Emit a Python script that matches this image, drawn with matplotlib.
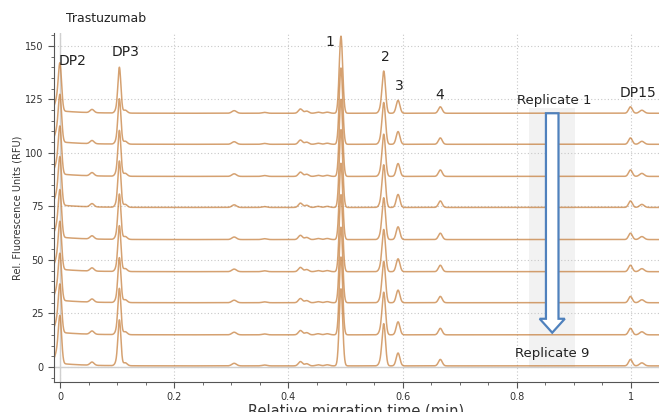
import numpy as np
import matplotlib
matplotlib.use("Agg")
import matplotlib.pyplot as plt
from matplotlib.patches import FancyArrow, Rectangle

# peak table (position in relative time, height in RFU, sigma)
peak_pos = [-0.005, 0.000, 0.056, 0.099, 0.104, 0.114, 0.305, 0.358, 0.421, 0.432,
            0.452, 0.468, 0.492, 0.561, 0.567, 0.592, 0.666, 0.999, 1.019]
peak_height = [5.0, 20.0, 1.5, 1.5, 21.0, 1.4, 1.2, 0.4, 2.0, 1.0,
               0.5, 0.5, 36.0, 1.5, 19.5, 6.0, 3.0, 3.0, 1.4]
peak_sigma = [0.004, 0.0028, 0.0035, 0.003, 0.0026, 0.0035, 0.004, 0.004, 0.0035, 0.0035,
              0.004, 0.004, 0.003, 0.003, 0.003, 0.0032, 0.0033, 0.0033, 0.004]

# baseline offset of each replicate (Replicate 1 on top)
offsets = [118.5, 104.0, 89.0, 74.5, 59.5, 44.5, 30.0, 15.0, 0.5]
scales = [1.00, 0.99, 1.00, 1.01, 0.99, 1.00, 0.98, 1.01, 1.00]

labels = ["DP2", "DP3", "1", "2", "3", "4", "DP15"]
label_x = [0.022, 0.114, 0.472, 0.569, 0.595, 0.665, 1.012]
label_y = [143, 147, 152, 145, 131, 127, 128]


def trace(t, scale):
    y = 1.5 * np.exp(-(t + 0.01) / 0.04)
    for p, h, s in zip(peak_pos, peak_height, peak_sigma):
        y += scale * h * np.exp(-0.5 * ((t - p) / s) ** 2)
    return y


fig = plt.figure(figsize=(6.59, 4.12), dpi=100)
ax = fig.add_axes([0.082, 0.073, 0.918, 0.847])

t = np.linspace(-0.0105, 1.049, 6000)

ax.add_patch(Rectangle((0.821, 0), 0.081, 121, facecolor="#f2f2f2",
                       edgecolor="none", zorder=0))
ax.axhline(0, color="#d0d0d0", lw=1.0, zorder=1)
ax.axvline(0, color="#d0d0d0", lw=1.0, zorder=1)

for off, sc in zip(offsets, scales):
    ax.plot(t, trace(t, sc) + off, color="#c47a35", lw=1.1, alpha=0.7, zorder=2)

arrow = FancyArrow(0.862, 118.5, 0, -102.5, width=0.022, head_width=0.044,
                   head_length=6.5, length_includes_head=True,
                   facecolor="white", edgecolor="#4f81bd", lw=1.6, zorder=4)
ax.add_patch(arrow)

for lab, x, y in zip(labels, label_x, label_y):
    ax.text(x, y, lab, ha="center", va="center", fontsize=10, color="#222222", zorder=5)
ax.text(0.866, 124.5, "Replicate 1", ha="center", va="center", fontsize=9.5,
        color="#222222", zorder=5)
ax.text(0.862, 6.5, "Replicate 9", ha="center", va="center", fontsize=9.5,
        color="#222222", zorder=5)
fig.text(0.10, 0.955, "Trastuzumab", ha="left", va="center", fontsize=9, color="#222222")

ax.set_xlim(-0.0105, 1.049)
ax.set_ylim(-7, 156)
ax.set_xticks([0, 0.2, 0.4, 0.6, 0.8, 1.0])
ax.set_xticklabels(["0", "0.2", "0.4", "0.6", "0.8", "1"])
ax.set_xticks(np.arange(0, 1.05, 0.05), minor=True)
ax.set_yticks(np.arange(0, 151, 25))
ax.set_yticks(np.arange(-5, 156, 5), minor=True)
ax.tick_params(axis="both", which="major", labelsize=7, length=4, color="#555555",
               labelcolor="#333333")
ax.tick_params(axis="both", which="minor", length=2.5, color="#555555")
ax.grid(True, which="major", linestyle=(0, (1, 2)), color="#c8c8c8", lw=0.8)
ax.set_axisbelow(True)
for side in ["top", "right"]:
    ax.spines[side].set_visible(False)
ax.spines["left"].set_color("#555555")
ax.spines["bottom"].set_color("#555555")
ax.set_ylabel("Rel. Fluorescence Units (RFU)", fontsize=7, color="#333333", labelpad=2)
ax.set_xlabel("Relative migration time (min)", fontsize=10.5, color="#333333", labelpad=1)

fig.savefig("out.png", dpi=100)
